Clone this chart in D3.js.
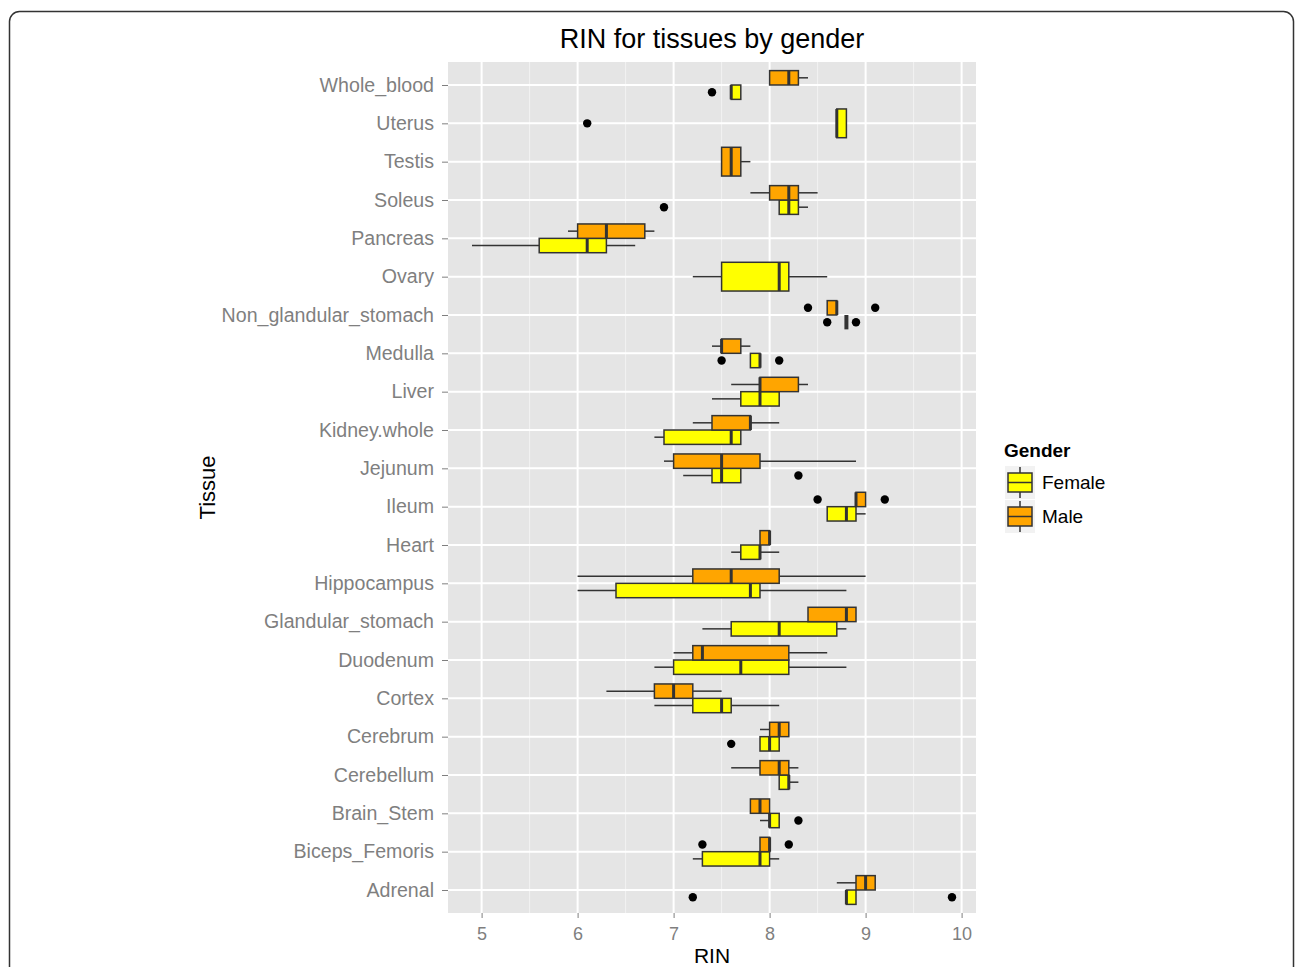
<!DOCTYPE html>
<html>
<head>
<meta charset="utf-8">
<script src="https://cdn.jsdelivr.net/npm/d3@7"></script>
<style>
  body { margin: 0; background: #fff; }
  text { font-family: "Liberation Sans", Arial, sans-serif; }
</style>
</head>
<body>
<div id="chart"></div>
<script>
// tissues listed top to bottom as in the plot
const tissues = ['Whole_blood', 'Uterus', 'Testis', 'Soleus', 'Pancreas', 'Ovary',
	'Non_glandular_stomach', 'Medulla', 'Liver', 'Kidney.whole', 'Jejunum', 'Ileum',
	'Heart', 'Hippocampus', 'Glandular_stomach', 'Duodenum', 'Cortex', 'Cerebrum',
	'Cerebellum', 'Brain_Stem', 'Biceps_Femoris', 'Adrenal'];

// [lower whisker, q1, median, q3, upper whisker]; null = no samples
const femaleBox = [
	[7.6, 7.6, 7.6, 7.7, 7.7], [8.7, 8.7, 8.7, 8.8, 8.8], null, [8.1, 8.1, 8.2, 8.3, 8.4],
	[4.9, 5.6, 6.1, 6.3, 6.6], [7.2, 7.5, 8.1, 8.2, 8.6], [8.8, 8.8, 8.8, 8.8, 8.8],
	[7.8, 7.8, 7.9, 7.9, 7.9], [7.4, 7.7, 7.9, 8.1, 8.1], [6.8, 6.9, 7.6, 7.7, 7.7],
	[7.1, 7.4, 7.5, 7.7, 7.7], [8.6, 8.6, 8.8, 8.9, 9.0], [7.6, 7.7, 7.9, 7.9, 8.1],
	[6.0, 6.4, 7.8, 7.9, 8.8], [7.3, 7.6, 8.1, 8.7, 8.8], [6.8, 7.0, 7.7, 8.2, 8.8],
	[6.8, 7.2, 7.5, 7.6, 8.1], [7.9, 7.9, 8.0, 8.1, 8.1], [8.1, 8.1, 8.2, 8.2, 8.3],
	[7.9, 8.0, 8.0, 8.1, 8.1], [7.2, 7.3, 7.9, 8.0, 8.1], [8.8, 8.8, 8.8, 8.9, 8.9]
];
const maleBox = [
	[8.0, 8.0, 8.2, 8.3, 8.4], null, [7.5, 7.5, 7.6, 7.7, 7.8], [7.8, 8.0, 8.2, 8.3, 8.5],
	[5.9, 6.0, 6.3, 6.7, 6.8], null, [8.6, 8.6, 8.7, 8.7, 8.7],
	[7.4, 7.5, 7.5, 7.7, 7.8], [7.6, 7.9, 7.9, 8.3, 8.4], [7.2, 7.4, 7.8, 7.8, 8.1],
	[6.9, 7.0, 7.5, 7.9, 8.9], [8.9, 8.9, 8.9, 9.0, 9.0], [7.9, 7.9, 8.0, 8.0, 8.0],
	[6.0, 7.2, 7.6, 8.1, 9.0], [8.4, 8.4, 8.8, 8.9, 8.9], [7.0, 7.2, 7.3, 8.2, 8.6],
	[6.3, 6.8, 7.0, 7.2, 7.5], [7.9, 8.0, 8.1, 8.2, 8.2], [7.6, 7.9, 8.1, 8.2, 8.3],
	[7.8, 7.8, 7.9, 8.0, 8.0], [7.9, 7.9, 8.0, 8.0, 8.0], [8.7, 8.9, 9.0, 9.1, 9.1]
];
const femaleOutliers = [[7.4], [6.1], [], [6.9], [], [], [8.6, 8.9], [7.5, 8.1], [], [],
	[8.3], [], [], [], [], [], [], [7.6], [], [8.3], [], [7.2, 9.9]];
const maleOutliers = [[], [], [], [], [], [], [8.4, 9.1], [], [], [], [],
	[8.5, 9.2], [], [], [], [], [], [], [], [], [7.3, 8.2], []];

const genders = ['Female', 'Male'];
const genderColors = ['#FFFF00', '#FFA500'];
const xTicks = [5, 6, 7, 8, 9, 10];
const xMinor = [5.5, 6.5, 7.5, 8.5, 9.5];

const W = 1295, H = 967;
const panel = {left: 448, right: 976, top: 62, bottom: 913};
const boxStroke = '#333333';
const axisGrey = '#7F7F7F';

const svg = d3.select('#chart').append('svg')
	.attr('width', W)
	.attr('height', H);

// outer rounded frame, cut off at the bottom
svg.append('rect')
	.attr('x', 9.5).attr('y', 11.5)
	.attr('width', 1284).attr('height', 1000)
	.attr('rx', 10)
	.attr('fill', 'none')
	.attr('stroke', '#333')
	.attr('stroke-width', 1.5);

const x = d3.scaleLinear().domain([4.65, 10.15]).range([panel.left, panel.right]);
const y = d3.scalePoint().domain(tissues).range([panel.top, panel.bottom]).padding(0.6);
const step = y.step();
const dodge = 0.75 * step;

svg.append('rect')
	.attr('x', panel.left).attr('y', panel.top)
	.attr('width', panel.right - panel.left).attr('height', panel.bottom - panel.top)
	.attr('fill', '#E5E5E5');

const grid = svg.append('g');
grid.selectAll('.minor')
	.data(xMinor)
	.enter().append('line')
	.attr('x1', d => x(d)).attr('x2', d => x(d))
	.attr('y1', panel.top).attr('y2', panel.bottom)
	.attr('stroke', '#F2F2F2').attr('stroke-width', 1);
grid.selectAll('.major-x')
	.data(xTicks)
	.enter().append('line')
	.attr('x1', d => x(d)).attr('x2', d => x(d))
	.attr('y1', panel.top).attr('y2', panel.bottom)
	.attr('stroke', '#fff').attr('stroke-width', 2);
grid.selectAll('.major-y')
	.data(tissues)
	.enter().append('line')
	.attr('x1', panel.left).attr('x2', panel.right)
	.attr('y1', d => y(d)).attr('y2', d => y(d))
	.attr('stroke', '#fff').attr('stroke-width', 2);

// build one record per drawn box
const boxes = [];
const points = [];
tissues.forEach((t, i) => {
	const both = femaleBox[i] && maleBox[i];
	[femaleBox, maleBox].forEach((arr, g) => {
		const s = arr[i];
		if (!s) return;
		let y0, y1;
		if (both) {
			y0 = g === 0 ? y(t) : y(t) - dodge / 2;
			y1 = y0 + dodge / 2;
		} else {
			y0 = y(t) - dodge / 2;
			y1 = y(t) + dodge / 2;
		}
		boxes.push({tissue: t, g: g, s: s, y0: y0, y1: y1});
		const outs = g === 0 ? femaleOutliers[i] : maleOutliers[i];
		outs.forEach(v => points.push({v: v, cy: (y0 + y1) / 2}));
	});
});

const boxG = svg.append('g').selectAll('g')
	.data(boxes)
	.enter().append('g');

boxG.append('line')
	.attr('x1', d => x(d.s[0])).attr('x2', d => x(d.s[1]))
	.attr('y1', d => (d.y0 + d.y1) / 2).attr('y2', d => (d.y0 + d.y1) / 2)
	.attr('stroke', boxStroke).attr('stroke-width', 1.5);
boxG.append('line')
	.attr('x1', d => x(d.s[3])).attr('x2', d => x(d.s[4]))
	.attr('y1', d => (d.y0 + d.y1) / 2).attr('y2', d => (d.y0 + d.y1) / 2)
	.attr('stroke', boxStroke).attr('stroke-width', 1.5);
boxG.append('rect')
	.attr('x', d => x(d.s[1]))
	.attr('y', d => d.y0)
	.attr('width', d => x(d.s[3]) - x(d.s[1]))
	.attr('height', d => d.y1 - d.y0)
	.attr('fill', d => genderColors[d.g])
	.attr('stroke', boxStroke).attr('stroke-width', 1.5);
boxG.append('line')
	.attr('x1', d => x(d.s[2])).attr('x2', d => x(d.s[2]))
	.attr('y1', d => d.y0).attr('y2', d => d.y1)
	.attr('stroke', boxStroke)
	.attr('stroke-width', d => d.s[1] === d.s[3] ? 4 : 3);

svg.append('g').selectAll('circle')
	.data(points)
	.enter().append('circle')
	.attr('cx', d => x(d.v))
	.attr('cy', d => d.cy)
	.attr('r', 4.2)
	.attr('fill', '#000');

// x axis
const xAxis = svg.append('g')
	.attr('transform', 'translate(0,' + panel.bottom + ')')
	.call(d3.axisBottom(x).tickValues(xTicks).tickSize(5).tickPadding(9).tickFormat(d3.format('d')));
xAxis.select('.domain').remove();
xAxis.selectAll('line').attr('stroke', axisGrey);
xAxis.selectAll('text')
	.attr('fill', axisGrey)
	.attr('font-size', 18)
	.attr('font-family', '"Liberation Sans", Arial, sans-serif');

// y axis
const yAxis = svg.append('g')
	.attr('transform', 'translate(' + panel.left + ',0)')
	.call(d3.axisLeft(y).tickSize(6).tickPadding(8));
yAxis.select('.domain').remove();
yAxis.selectAll('line').attr('stroke', axisGrey);
yAxis.selectAll('text')
	.attr('fill', axisGrey)
	.attr('font-size', 19.6)
	.attr('font-family', '"Liberation Sans", Arial, sans-serif');

svg.append('text')
	.attr('x', (panel.left + panel.right) / 2)
	.attr('y', 48)
	.attr('text-anchor', 'middle')
	.attr('font-size', 27)
	.text('RIN for tissues by gender');

svg.append('text')
	.attr('x', (panel.left + panel.right) / 2)
	.attr('y', 963)
	.attr('text-anchor', 'middle')
	.attr('font-size', 21)
	.text('RIN');

svg.append('text')
	.attr('transform', 'translate(215,' + (panel.top + panel.bottom) / 2 + ') rotate(-90)')
	.attr('text-anchor', 'middle')
	.attr('font-size', 22)
	.text('Tissue');

// legend
const legend = svg.append('g').attr('transform', 'translate(1005,0)');
legend.append('text')
	.attr('x', -1).attr('y', 457)
	.attr('font-size', 19)
	.attr('font-weight', 'bold')
	.text('Gender');

const key = legend.selectAll('.key')
	.data(genders)
	.enter().append('g')
	.attr('transform', (d, i) => 'translate(0,' + (466 + i * 34) + ')');
key.append('rect')
	.attr('width', 30).attr('height', 33)
	.attr('fill', '#F2F2F2');
key.append('line')
	.attr('x1', 15).attr('x2', 15).attr('y1', 1).attr('y2', 32)
	.attr('stroke', boxStroke).attr('stroke-width', 1.5);
key.append('rect')
	.attr('x', 3).attr('y', 7)
	.attr('width', 24).attr('height', 19)
	.attr('fill', (d, i) => genderColors[i])
	.attr('stroke', boxStroke).attr('stroke-width', 1.5);
key.append('line')
	.attr('x1', 3).attr('x2', 27).attr('y1', 16.5).attr('y2', 16.5)
	.attr('stroke', boxStroke).attr('stroke-width', 1.5);
key.append('text')
	.attr('x', 37).attr('y', 23)
	.attr('font-size', 19)
	.text(d => d);
</script>
</body>
</html>
